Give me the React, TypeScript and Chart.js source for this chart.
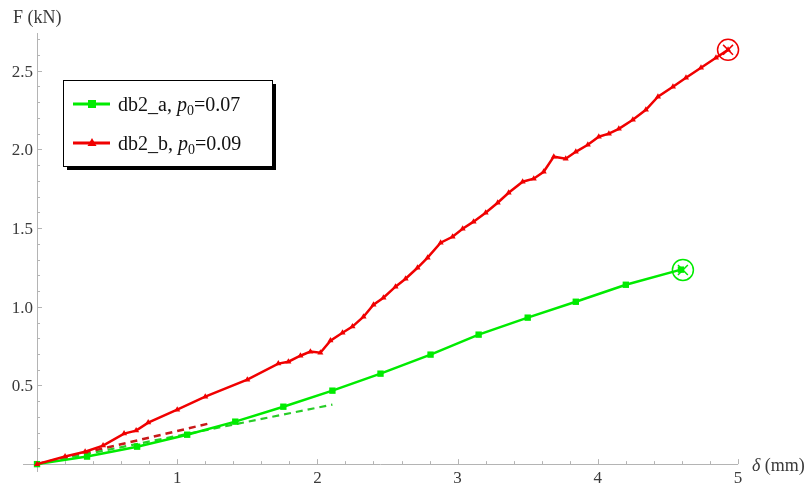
import React, { useEffect, useRef } from "react";
import { Chart, registerables } from "chart.js";

Chart.register(...registerables);

// ---- data ----
const greenDelta = [0, 0.357, 0.714, 1.071, 1.414, 1.757, 2.107, 2.45, 2.807, 3.15, 3.5, 3.843, 4.2, 4.593];
const greenForce = [0, 0.048, 0.111, 0.187, 0.27, 0.365, 0.467, 0.575, 0.696, 0.823, 0.931, 1.032, 1.14, 1.236];

const redDelta = [
  0, 0.2, 0.343, 0.471, 0.621, 0.707, 0.793, 1.0, 1.2, 1.5, 1.721, 1.793, 1.879, 1.95, 2.021, 2.093, 2.179,
  2.25, 2.329, 2.4, 2.471, 2.557, 2.629, 2.714, 2.786, 2.879, 2.964, 3.036, 3.114, 3.2, 3.286, 3.364, 3.464,
  3.543, 3.614, 3.686, 3.771, 3.843, 3.929, 4.007, 4.079, 4.15, 4.25, 4.343, 4.429, 4.536, 4.629, 4.736,
  4.843, 4.929,
];
const redForce = [
  0, 0.048, 0.079, 0.118, 0.194, 0.213, 0.264, 0.346, 0.429, 0.537, 0.639, 0.651, 0.689, 0.715, 0.708, 0.785,
  0.835, 0.874, 0.937, 1.013, 1.058, 1.128, 1.178, 1.248, 1.312, 1.407, 1.445, 1.496, 1.541, 1.598, 1.661,
  1.725, 1.795, 1.814, 1.858, 1.954, 1.941, 1.985, 2.03, 2.081, 2.1, 2.131, 2.189, 2.252, 2.335, 2.398, 2.455,
  2.519, 2.583, 2.633,
];

const greenTangentDelta = [0, 2.107];
const greenTangentForce = [0, 0.378];
const redTangentDelta = [0, 1.221];
const redTangentForce = [0, 0.257];

// failure points: [green, red]
const failureDelta = [4.607, 4.929];
const failureForce = [1.234, 2.633];

const xTicks = [1, 2, 3, 4, 5];
const xTickLabels = ["1", "2", "3", "4", "5"];
const yTicks = [0.5, 1.0, 1.5, 2.0, 2.5];
const yTickLabels = ["0.5", "1.0", "1.5", "2.0", "2.5"];
const xMinorStep = 0.2;
const yMinorStep = 0.1;

const seriesLabels = ["db2_a", "db2_b"];
const seriesP0 = ["0.07", "0.09"];

const GREEN = "rgb(0,235,0)";
const RED = "rgb(240,0,0)";
const AXIS = "#b4b4b4";
const TEXT = "#3a3a3a";
const SERIF = "'Liberation Serif', 'Times New Roman', serif";

const zip = (xs: number[], ys: number[]) => xs.map((x, i) => ({ x, y: ys[i] }));

const axesPlugin = {
  id: "mmaAxes",
  beforeDatasetsDraw(chart: any) {
    const { ctx, chartArea, scales } = chart;
    const xs = scales.x;
    const ys = scales.y;
    const x0 = xs.getPixelForValue(0);
    const y0 = ys.getPixelForValue(0);
    ctx.save();
    ctx.strokeStyle = AXIS;
    ctx.lineWidth = 1;
    ctx.beginPath();
    ctx.moveTo(chartArea.left, Math.round(y0) + 0.5);
    ctx.lineTo(chartArea.right, Math.round(y0) + 0.5);
    ctx.moveTo(Math.round(x0) + 0.5, chartArea.top);
    ctx.lineTo(Math.round(x0) + 0.5, chartArea.bottom);
    ctx.stroke();

    ctx.beginPath();
    for (let v = xMinorStep; v <= xs.max + 1e-9; v += xMinorStep) {
      const isMajor = xTicks.some((t) => Math.abs(t - v) < 1e-6);
      const px = Math.round(xs.getPixelForValue(v)) + 0.5;
      const len = isMajor ? 5 : 3;
      ctx.moveTo(px, y0);
      ctx.lineTo(px, y0 - len);
    }
    for (let v = yMinorStep; v <= ys.max + 1e-9; v += yMinorStep) {
      const isMajor = yTicks.some((t) => Math.abs(t - v) < 1e-6);
      const py = Math.round(ys.getPixelForValue(v)) + 0.5;
      const len = isMajor ? 5 : 3;
      ctx.moveTo(x0, py);
      ctx.lineTo(x0 + len, py);
    }
    ctx.stroke();

    ctx.fillStyle = TEXT;
    ctx.font = `17px ${SERIF}`;
    ctx.textAlign = "center";
    ctx.textBaseline = "alphabetic";
    xTicks.forEach((t, i) => {
      ctx.fillText(xTickLabels[i], xs.getPixelForValue(t), y0 + 19);
    });
    ctx.textAlign = "right";
    yTicks.forEach((t, i) => {
      ctx.fillText(yTickLabels[i], x0 - 4, ys.getPixelForValue(t) + 6);
    });

    ctx.textAlign = "left";
    ctx.font = `18px ${SERIF}`;
    ctx.fillText("F (kN)", 13, 23);
    ctx.font = `italic 18px ${SERIF}`;
    ctx.fillText("δ", 752, y0 + 7);
    const dw = ctx.measureText("δ").width;
    ctx.font = `18px ${SERIF}`;
    ctx.fillText(" (mm)", 752 + dw, y0 + 7);
    ctx.restore();
  },
  afterDraw(chart: any) {
    const { ctx } = chart;
    ctx.save();
    const bx = 63, by = 80, bw = 209, bh = 86;
    ctx.fillStyle = "#000";
    ctx.fillRect(bx + 4, by + 4, bw, bh);
    ctx.fillStyle = "#fff";
    ctx.fillRect(bx, by, bw, bh);
    ctx.strokeStyle = "#000";
    ctx.lineWidth = 1;
    ctx.strokeRect(bx + 0.5, by + 0.5, bw, bh);

    const rows = [
      { y: 104, color: GREEN, marker: "square" },
      { y: 143, color: RED, marker: "triangle" },
    ];
    rows.forEach((r, i) => {
      ctx.strokeStyle = r.color;
      ctx.lineWidth = 3;
      ctx.beginPath();
      ctx.moveTo(73, r.y);
      ctx.lineTo(110, r.y);
      ctx.stroke();
      ctx.fillStyle = r.color;
      if (r.marker === "square") {
        ctx.fillRect(88, r.y - 4, 8, 8);
      } else {
        ctx.beginPath();
        ctx.moveTo(92, r.y - 5);
        ctx.lineTo(96.5, r.y + 3);
        ctx.lineTo(87.5, r.y + 3);
        ctx.closePath();
        ctx.fill();
      }
      ctx.fillStyle = "#111";
      ctx.textAlign = "left";
      ctx.textBaseline = "alphabetic";
      const base = r.y + 7;
      let x = 118;
      ctx.font = `20px ${SERIF}`;
      const t1 = `${seriesLabels[i]}, `;
      ctx.fillText(t1, x, base);
      x += ctx.measureText(t1).width;
      ctx.font = `italic 20px ${SERIF}`;
      ctx.fillText("p", x, base);
      x += ctx.measureText("p").width;
      ctx.font = `14px ${SERIF}`;
      ctx.fillText("0", x, base + 4);
      x += ctx.measureText("0").width;
      ctx.font = `20px ${SERIF}`;
      ctx.fillText(`=${seriesP0[i]}`, x, base);
    });
    ctx.restore();
  },
};

export default function App() {
  const ref = useRef<HTMLCanvasElement | null>(null);
  useEffect(() => {
    if (!ref.current) return;
    const chart = new Chart(ref.current, {
      type: "line",
      data: {
        datasets: [
          {
            label: "green tangent",
            data: zip(greenTangentDelta, greenTangentForce),
            borderColor: "rgb(40,205,40)",
            borderWidth: 2.2,
            borderDash: [7, 5],
            pointRadius: 0,
            order: 5,
          },
          {
            label: "red tangent",
            data: zip(redTangentDelta, redTangentForce),
            borderColor: "rgb(200,25,25)",
            borderWidth: 2.5,
            borderDash: [7, 5],
            pointRadius: 0,
            order: 5,
          },
          {
            label: "db2_a, p0=0.07",
            data: zip(greenDelta, greenForce),
            borderColor: GREEN,
            backgroundColor: GREEN,
            borderWidth: 2.5,
            pointStyle: "rect",
            pointRadius: 4.5,
            pointBorderWidth: 0,
            order: 3,
          },
          {
            label: "db2_b, p0=0.09",
            data: zip(redDelta, redForce),
            borderColor: RED,
            backgroundColor: RED,
            borderWidth: 2.5,
            pointStyle: "triangle",
            pointRadius: 3.5,
            pointBorderWidth: 0,
            order: 2,
          },
          {
            label: "failure circle",
            data: zip(failureDelta, failureForce),
            showLine: false,
            pointStyle: "circle",
            pointRadius: 10.5,
            pointBorderWidth: 1.5,
            pointBackgroundColor: "rgba(0,0,0,0)",
            pointBorderColor: [GREEN, RED],
            order: 1,
          },
          {
            label: "failure cross",
            data: zip(failureDelta, failureForce),
            showLine: false,
            pointStyle: "crossRot",
            pointRadius: 7,
            pointBorderWidth: 1.5,
            pointBorderColor: [GREEN, RED],
            order: 1,
          },
        ],
      },
      options: {
        animation: false,
        responsive: true,
        maintainAspectRatio: false,
        layout: { padding: { left: 23, right: 71, top: 33, bottom: 16 } },
        datasets: { line: { clip: false as any, tension: 0, parsing: false } as any },
        scales: {
          x: { type: "linear", min: -0.1, max: 5.0, display: false },
          y: { type: "linear", min: -0.05, max: 2.74, display: false },
        },
        plugins: { legend: { display: false }, tooltip: { enabled: false } },
        events: [],
      },
      plugins: [axesPlugin],
    });
    return () => chart.destroy();
  }, []);
  return (
    <div style={{ position: "fixed", left: 0, top: 0, width: 809, height: 488, background: "#fff" }}>
      <canvas ref={ref} />
    </div>
  );
}
